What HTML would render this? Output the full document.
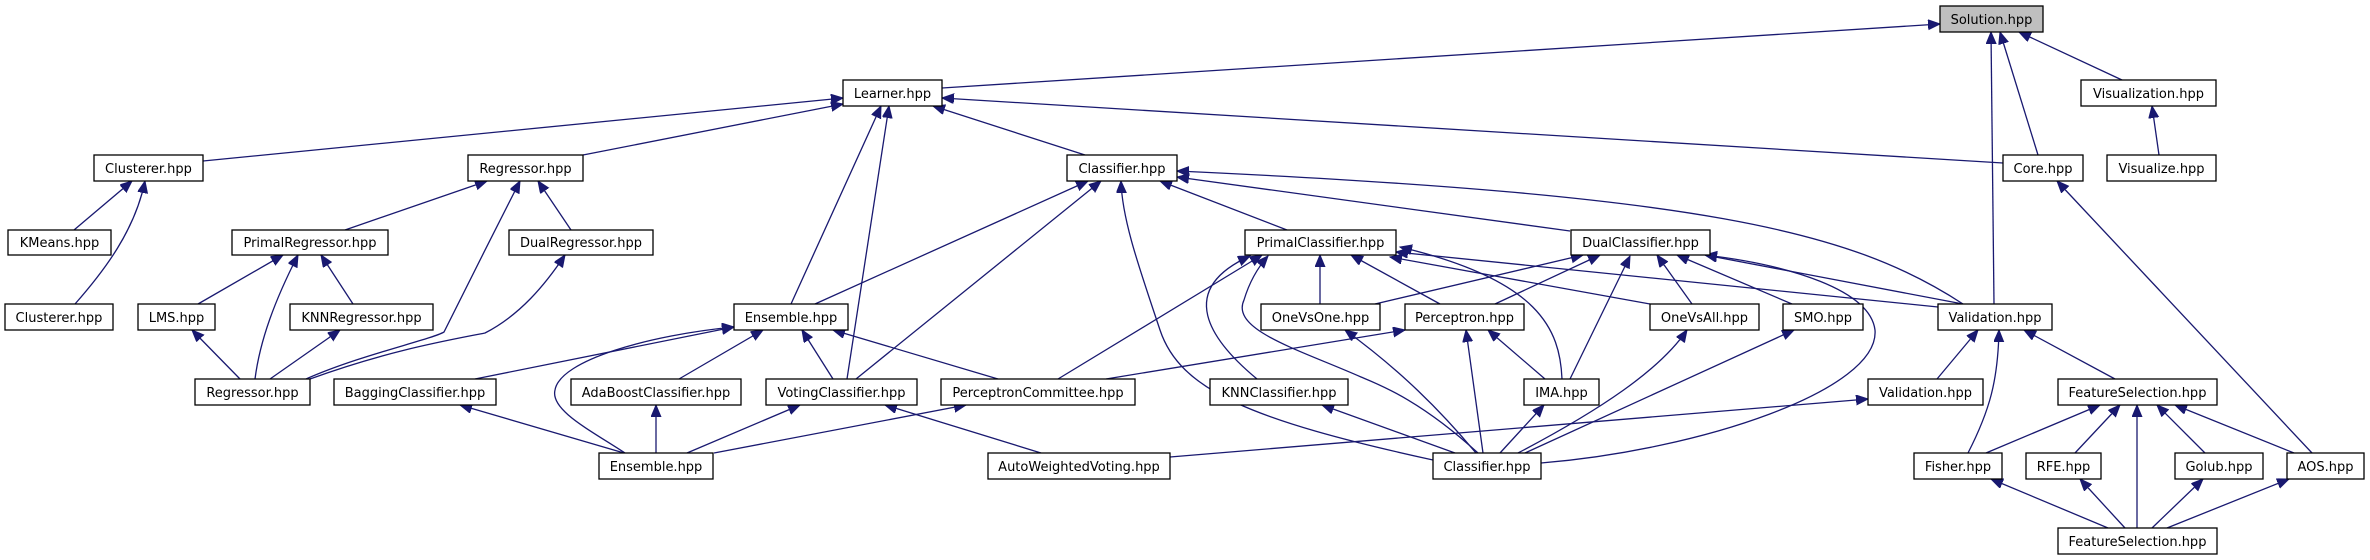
<!DOCTYPE html>
<html><head><meta charset="utf-8"><style>
html,body{margin:0;padding:0;background:#fff;width:2370px;height:560px;overflow:hidden}
svg text{font-family:"DejaVu Sans","Liberation Sans",sans-serif;font-size:13px;fill:#000}
.e{fill:none;stroke:#191970;stroke-width:1.3}
.b{fill:#fff;stroke:#000;stroke-width:1.3}
</style></head><body>
<svg width="2370" height="560" viewBox="0 0 2370 560" xmlns="http://www.w3.org/2000/svg">
<defs><marker id="a" markerUnits="userSpaceOnUse" markerWidth="14" markerHeight="12" refX="12" refY="5" orient="auto"><path d="M0,0 L12,5 L0,10 z" fill="#191970" stroke="#191970"/></marker></defs>
<g class="e" marker-end="url(#a)">
<path d="M942,88 L1940,24"/>
<path d="M2038,155 L2000,32"/>
<path d="M1994,304 L1991,32"/>
<path d="M2122,80 L2019,32"/>
<path d="M2159,155 L2152,106"/>
<path d="M203,161 L843,98"/>
<path d="M583,155 L843,104"/>
<path d="M1085,155 L933,106"/>
<path d="M2003,163 L942,98"/>
<path d="M791,304 L881,106"/>
<path d="M847,379 L889,106"/>
<path d="M74,230 L132,181"/>
<path d="M75,304 C105,270 135,230 145,181"/>
<path d="M345,230 L487,181"/>
<path d="M306,379 C360,355 430,340 444,332 C460,300 500,220 520,181"/>
<path d="M571,230 L538,181"/>
<path d="M198,304 L283,255"/>
<path d="M255,379 C260,340 275,300 298,255"/>
<path d="M353,304 L321,255"/>
<path d="M240,379 L192,330"/>
<path d="M270,379 L340,330"/>
<path d="M310,379 C390,350 450,340 485,333 C520,315 545,285 565,255"/>
<path d="M815,304 L1088,181"/>
<path d="M856,379 L1101,181"/>
<path d="M1433,460 C1250,420 1180,390 1160,330 C1140,270 1122,220 1121,181"/>
<path d="M1287,230 L1160,181"/>
<path d="M1570,231 L1177,177"/>
<path d="M1963,304 C1850,230 1700,195 1177,171"/>
<path d="M475,379 L734,327"/>
<path d="M625,453 C590,430 550,410 555,390 C560,360 650,335 734,327"/>
<path d="M679,379 L763,330"/>
<path d="M833,379 L802,330"/>
<path d="M998,379 L833,330"/>
<path d="M624,453 L460,405"/>
<path d="M656,453 L656,405"/>
<path d="M687,453 L800,405"/>
<path d="M714,453 L966,405"/>
<path d="M1041,453 L885,405"/>
<path d="M1170,457 L1868,399"/>
<path d="M1058,379 L1262,255"/>
<path d="M1106,379 L1405,330"/>
<path d="M1257,379 C1210,340 1175,290 1250,256"/>
<path d="M1478,453 C1420,400 1380,385 1361,377 C1300,350 1230,330 1244,300 C1250,280 1260,265 1268,256"/>
<path d="M1320,304 L1320,255"/>
<path d="M1440,304 L1351,255"/>
<path d="M1562,379 C1560,330 1540,280 1400,247"/>
<path d="M1938,307 L1396,252"/>
<path d="M1650,304 L1390,257"/>
<path d="M1476,453 C1440,410 1400,370 1345,330"/>
<path d="M1483,453 L1466,330"/>
<path d="M1545,379 L1488,330"/>
<path d="M1455,453 L1322,405"/>
<path d="M1500,453 L1544,405"/>
<path d="M1518,453 C1600,410 1660,370 1687,330"/>
<path d="M1525,453 L1794,330"/>
<path d="M1541,463 C1700,450 1880,390 1875,330 C1870,290 1790,265 1705,255"/>
<path d="M1570,379 L1630,256"/>
<path d="M1375,304 L1583,255"/>
<path d="M1495,304 L1600,255"/>
<path d="M1692,304 L1657,255"/>
<path d="M1792,304 L1677,255"/>
<path d="M1963,304 L1705,255"/>
<path d="M1937,379 L1978,330"/>
<path d="M1968,453 C1990,410 1998,380 1999,330"/>
<path d="M2115,379 L2024,330"/>
<path d="M1986,453 L2100,405"/>
<path d="M2075,453 L2120,405"/>
<path d="M2137,528 L2137,405"/>
<path d="M2205,453 L2157,405"/>
<path d="M2294,453 L2175,405"/>
<path d="M2312,453 L2057,181"/>
<path d="M2108,528 L1991,479"/>
<path d="M2125,528 L2080,479"/>
<path d="M2152,528 L2203,479"/>
<path d="M2167,528 L2289,479"/>
</g>
<g>
<rect x="1940" y="6" width="103" height="26" fill="#bfbfbf" stroke="#000" stroke-width="1.3"/><text x="1991.5" y="24" text-anchor="middle">Solution.hpp</text>
</g>
<g id="n">
<rect class="b" x="843" y="80" width="99" height="26"/><text x="892.5" y="98" text-anchor="middle">Learner.hpp</text>
<rect class="b" x="2081" y="80" width="135" height="26"/><text x="2148.5" y="98" text-anchor="middle">Visualization.hpp</text>
<rect class="b" x="94" y="155" width="109" height="26"/><text x="148.5" y="173" text-anchor="middle">Clusterer.hpp</text>
<rect class="b" x="468" y="155" width="115" height="26"/><text x="525.5" y="173" text-anchor="middle">Regressor.hpp</text>
<rect class="b" x="1067" y="155" width="110" height="26"/><text x="1122" y="173" text-anchor="middle">Classifier.hpp</text>
<rect class="b" x="2003" y="155" width="80" height="26"/><text x="2043" y="173" text-anchor="middle">Core.hpp</text>
<rect class="b" x="2107" y="155" width="109" height="26"/><text x="2161.5" y="173" text-anchor="middle">Visualize.hpp</text>
<rect class="b" x="8" y="230" width="103" height="25"/><text x="59.5" y="247" text-anchor="middle">KMeans.hpp</text>
<rect class="b" x="232" y="230" width="156" height="25"/><text x="310" y="247" text-anchor="middle">PrimalRegressor.hpp</text>
<rect class="b" x="509" y="230" width="144" height="25"/><text x="581" y="247" text-anchor="middle">DualRegressor.hpp</text>
<rect class="b" x="1245" y="230" width="151" height="25"/><text x="1320.5" y="247" text-anchor="middle">PrimalClassifier.hpp</text>
<rect class="b" x="1571" y="230" width="139" height="25"/><text x="1640.5" y="247" text-anchor="middle">DualClassifier.hpp</text>
<rect class="b" x="5" y="304" width="108" height="26"/><text x="59" y="322" text-anchor="middle">Clusterer.hpp</text>
<rect class="b" x="138" y="304" width="77" height="26"/><text x="176.5" y="322" text-anchor="middle">LMS.hpp</text>
<rect class="b" x="290" y="304" width="143" height="26"/><text x="361.5" y="322" text-anchor="middle">KNNRegressor.hpp</text>
<rect class="b" x="734" y="304" width="114" height="26"/><text x="791" y="322" text-anchor="middle">Ensemble.hpp</text>
<rect class="b" x="1261" y="304" width="119" height="26"/><text x="1320.5" y="322" text-anchor="middle">OneVsOne.hpp</text>
<rect class="b" x="1405" y="304" width="119" height="26"/><text x="1464.5" y="322" text-anchor="middle">Perceptron.hpp</text>
<rect class="b" x="1650" y="304" width="109" height="26"/><text x="1704.5" y="322" text-anchor="middle">OneVsAll.hpp</text>
<rect class="b" x="1783" y="304" width="80" height="26"/><text x="1823" y="322" text-anchor="middle">SMO.hpp</text>
<rect class="b" x="1938" y="304" width="114" height="26"/><text x="1995" y="322" text-anchor="middle">Validation.hpp</text>
<rect class="b" x="195" y="379" width="115" height="26"/><text x="252.5" y="397" text-anchor="middle">Regressor.hpp</text>
<rect class="b" x="334" y="379" width="162" height="26"/><text x="415" y="397" text-anchor="middle">BaggingClassifier.hpp</text>
<rect class="b" x="571" y="379" width="170" height="26"/><text x="656" y="397" text-anchor="middle">AdaBoostClassifier.hpp</text>
<rect class="b" x="766" y="379" width="151" height="26"/><text x="841.5" y="397" text-anchor="middle">VotingClassifier.hpp</text>
<rect class="b" x="941" y="379" width="194" height="26"/><text x="1038" y="397" text-anchor="middle">PerceptronCommittee.hpp</text>
<rect class="b" x="1210" y="379" width="138" height="26"/><text x="1279" y="397" text-anchor="middle">KNNClassifier.hpp</text>
<rect class="b" x="1524" y="379" width="75" height="26"/><text x="1561.5" y="397" text-anchor="middle">IMA.hpp</text>
<rect class="b" x="1868" y="379" width="115" height="26"/><text x="1925.5" y="397" text-anchor="middle">Validation.hpp</text>
<rect class="b" x="2058" y="379" width="159" height="26"/><text x="2137.5" y="397" text-anchor="middle">FeatureSelection.hpp</text>
<rect class="b" x="599" y="453" width="114" height="26"/><text x="656" y="471" text-anchor="middle">Ensemble.hpp</text>
<rect class="b" x="988" y="453" width="182" height="26"/><text x="1079" y="471" text-anchor="middle">AutoWeightedVoting.hpp</text>
<rect class="b" x="1433" y="453" width="108" height="26"/><text x="1487" y="471" text-anchor="middle">Classifier.hpp</text>
<rect class="b" x="1914" y="453" width="88" height="26"/><text x="1958" y="471" text-anchor="middle">Fisher.hpp</text>
<rect class="b" x="2026" y="453" width="75" height="26"/><text x="2063.5" y="471" text-anchor="middle">RFE.hpp</text>
<rect class="b" x="2175" y="453" width="88" height="26"/><text x="2219" y="471" text-anchor="middle">Golub.hpp</text>
<rect class="b" x="2287" y="453" width="77" height="26"/><text x="2325.5" y="471" text-anchor="middle">AOS.hpp</text>
<rect class="b" x="2058" y="528" width="159" height="26"/><text x="2137.5" y="546" text-anchor="middle">FeatureSelection.hpp</text>
</g>
</svg>
</body></html>
